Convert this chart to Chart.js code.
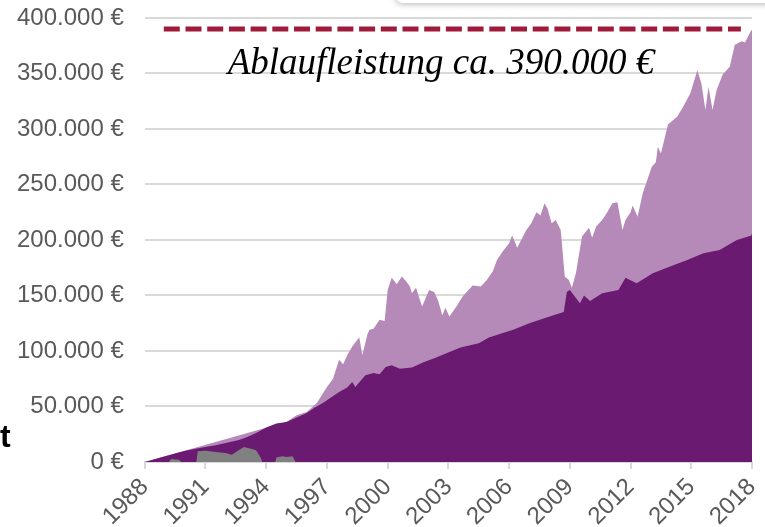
<!DOCTYPE html>
<html>
<head>
<meta charset="utf-8">
<script src="https://cdn.jsdelivr.net/npm/chart.js@4/dist/chart.umd.min.js"></script>
<style>
  body { margin: 0; background: #fff; }
  #wrap { position: relative; width: 765px; height: 527px; overflow: hidden; }
  #box {
    position: absolute; left: 395px; top: -40px; width: 400px; height: 43px;
    background: #fff; border-radius: 8px; box-shadow: 0 1px 6px rgba(0,0,0,0.3);
  }
  #cut {
    position: absolute; left: 0px; top: 418px;
    font: bold 32px "Liberation Sans", Arial, sans-serif; color: #000;
  }
</style>
</head>
<body>
<div id="wrap">
  <canvas id="fondsChart" width="765" height="527"></canvas>
  <div id="box"></div>
  <div id="cut">t</div>
</div>
<script>
// x-axis tick years and y-axis tick values
const xTickYears = [1988, 1991, 1994, 1997, 2000, 2003, 2006, 2009, 2012, 2015, 2018];
const yTickValues = [0, 50000, 100000, 150000, 200000, 250000, 300000, 350000, 400000];
const yTickLabels = ["0 €", "50.000 €", "100.000 €", "150.000 €", "200.000 €",
                     "250.000 €", "300.000 €", "350.000 €", "400.000 €"];

// Fondsguthaben (light)
const lightYears = [1988.0, 1995.0, 1995.5, 1996.0, 1996.5, 1997.0, 1997.3, 1997.6, 1997.8, 1998.0,
  1998.25, 1998.5, 1998.6, 1998.75, 1999.0, 1999.1, 1999.3, 1999.6, 1999.85, 2000.0,
  2000.2, 2000.45, 2000.7, 2000.9, 2001.1, 2001.2, 2001.4, 2001.7, 2002.05, 2002.3,
  2002.5, 2002.7, 2002.85, 2003.05, 2003.4, 2003.7, 2004.2, 2004.6, 2004.9, 2005.2,
  2005.4, 2005.7, 2006.0, 2006.15, 2006.4, 2006.85, 2007.1, 2007.35, 2007.55, 2007.75,
  2007.9, 2008.1, 2008.3, 2008.55, 2008.75, 2008.95, 2009.1, 2009.3, 2009.6, 2009.95,
  2010.1, 2010.3, 2010.6, 2010.85, 2011.1, 2011.35, 2011.6, 2011.75, 2012.0, 2012.1,
  2012.35, 2012.6, 2013.05, 2013.25, 2013.35, 2013.5, 2013.85, 2014.3, 2014.6, 2014.95,
  2015.3, 2015.5, 2015.7, 2015.85, 2016.05, 2016.25, 2016.55, 2016.9, 2017.15, 2017.5,
  2017.65, 2017.97, 2018.0];
const lightValues = [0, 36000, 42000, 45000, 53000, 67500, 75000, 92000, 88000, 96000,
  104000, 110000, 112000, 96000, 115000, 119000, 120000, 128000, 127000, 155000,
  166000, 160000, 167000, 163000, 158000, 152000, 157000, 140000, 155000, 153000,
  145000, 132000, 139000, 131000, 140000, 149000, 159000, 158000, 164000, 172000,
  182000, 190000, 197000, 204000, 193000, 209000, 215000, 225000, 222000, 233000,
  228000, 215000, 218000, 209000, 167000, 164000, 157000, 170000, 203000, 211000,
  202000, 212000, 218000, 225000, 233000, 234000, 209000, 218000, 225000, 231000,
  221000, 242000, 266000, 270000, 284000, 278000, 304000, 311000, 320000, 332000,
  353000, 341000, 317000, 338000, 317000, 335000, 349000, 356000, 376000, 379000,
  378000, 389000, 389000];

// Beitragssumme / Garantie (dark)
const darkYears = [1988.0, 1989.0, 1990.0, 1990.7, 1991.5, 1992.65, 1993.0, 1993.5, 1994.0, 1994.5,
  1995.0, 1995.5, 1996.0, 1996.4, 1996.8, 1997.2, 1997.6, 1998.0, 1998.25, 1998.4,
  1998.9, 1999.3, 1999.6, 1999.9, 2000.2, 2000.6, 2001.2, 2001.8, 2002.4, 2002.9,
  2003.6, 2004.5, 2005.0, 2005.5, 2006.2, 2007.0, 2007.85, 2008.5, 2008.7, 2008.85,
  2009.0, 2009.5, 2009.7, 2010.0, 2010.6, 2011.4, 2011.75, 2012.3, 2013.1, 2013.95,
  2014.8, 2015.6, 2016.4, 2017.25, 2017.97, 2018.0];
const darkValues = [0, 5000, 10000, 12600, 15000, 19800, 22000, 26000, 31000, 34500,
  36000, 40000, 44000, 49000, 53000, 58000, 63000, 67000, 72000, 67500,
  78000, 80000, 79000, 85500, 87000, 84000, 85000, 90000, 94000, 98000,
  103000, 107000, 112000, 115000, 119000, 125000, 130000, 134000, 135000, 153000,
  155000, 143000, 150000, 145000, 152000, 155000, 166000, 161000, 170000, 176000,
  182000, 188000, 191000, 200000, 204000, 206000];

// Verlustphasen (gray)
const grayYears = [1988.0, 1989.2, 1989.3, 1989.7, 1989.8, 1990.55, 1990.62, 1991.0, 1991.5, 1992.0,
  1992.3, 1992.6, 1992.9, 1993.2, 1993.5, 1993.75, 1993.8, 1994.45, 1994.5, 1994.8,
  1995.0, 1995.3, 1995.45, 2018.0];
const grayValues = [0, 0, 2500, 2000, 0, 0, 9500, 10000, 9000, 8000,
  6500, 10000, 13500, 12000, 10500, 3000, 0, 0, 4000, 5000,
  4500, 5000, 0, 0];

// Ablaufleistung
const targetYears = [1988.94, 2017.45];
const targetValue = 390000;
const targetLabel = "Ablaufleistung ca. 390.000 €";

function toPoints(xs, ys) {
  return xs.map((x, i) => ({ x: x, y: ys[i] }));
}

const labelPlugin = {
  id: "targetLabel",
  afterDatasetsDraw(chart) {
    const c = chart.ctx;
    const x = chart.scales.x.getPixelForValue(2002.63);
    const y = chart.scales.y.getPixelForValue(349500);
    c.save();
    c.font = "italic 37px 'Liberation Serif', 'Times New Roman', serif";
    c.fillStyle = "#000";
    c.textAlign = "center";
    c.textBaseline = "alphabetic";
    c.fillText(targetLabel, x, y);
    c.restore();
  }
};

const ctx = document.getElementById("fondsChart").getContext("2d");

new Chart(ctx, {
  type: "line",
  data: {
    datasets: [
      {
        data: targetYears.map(x => ({ x: x, y: targetValue })),
        borderColor: "#a01b3b",
        borderWidth: 5,
        borderDash: [16, 5.7],
        borderCapStyle: "butt",
        fill: false,
        pointRadius: 0
      },
      {
        data: toPoints(grayYears, grayValues),
        backgroundColor: "#808080",
        borderWidth: 0,
        fill: "origin",
        pointRadius: 0
      },
      {
        data: toPoints(darkYears, darkValues),
        backgroundColor: "#6b1a72",
        borderWidth: 0,
        fill: "origin",
        pointRadius: 0
      },
      {
        data: toPoints(lightYears, lightValues),
        backgroundColor: "#b58ab8",
        borderWidth: 0,
        fill: "origin",
        pointRadius: 0
      }
    ]
  },
  options: {
    responsive: false,
    animation: false,
    layout: { padding: { left: -4, right: 13, top: 18, bottom: -8 } },
    plugins: { legend: { display: false }, tooltip: { enabled: false } },
    elements: { line: { tension: 0 } },
    scales: {
      x: {
        type: "linear",
        min: 1988,
        max: 2018,
        afterBuildTicks(axis) {
          axis.ticks = xTickYears.map(v => ({ value: v }));
        },
        afterFit(axis) {
          axis.paddingLeft = 0;
          axis.paddingRight = 0;
        },
        ticks: {
          minRotation: 45,
          maxRotation: 45,
          padding: 4,
          color: "#595959",
          font: { family: "'Liberation Sans', Arial, sans-serif", size: 24 },
          callback: v => String(v)
        },
        grid: { drawOnChartArea: false, drawTicks: true, tickLength: 7, color: "#d9d9d9", lineWidth: 2 },
        border: { display: true, color: "#d9d9d9", width: 2 }
      },
      y: {
        min: 0,
        max: 400000,
        afterBuildTicks(axis) {
          axis.ticks = yTickValues.map(v => ({ value: v }));
        },
        afterFit(axis) {
          axis.paddingTop = 0;
          axis.paddingBottom = 0;
        },
        ticks: {
          padding: 21,
          color: "#595959",
          font: { family: "'Liberation Sans', Arial, sans-serif", size: 24 },
          callback: v => yTickLabels[yTickValues.indexOf(v)]
        },
        grid: { drawTicks: false, color: "#d9d9d9", lineWidth: 2 },
        border: { display: false }
      }
    }
  },
  plugins: [labelPlugin]
});
</script>
</body>
</html>
